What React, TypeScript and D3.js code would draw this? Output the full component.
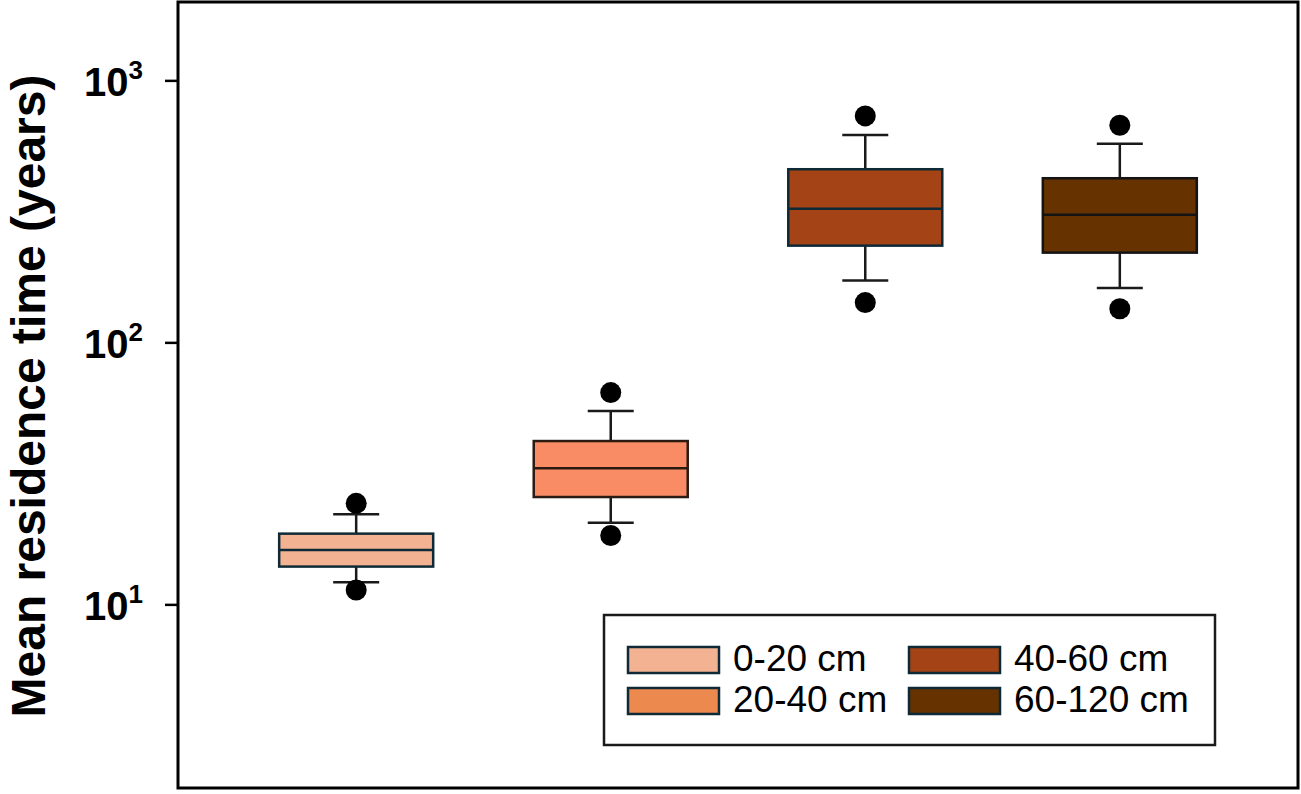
import React from "react";
import * as d3 from "d3";

const categories = ["0-20 cm", "20-40 cm", "40-60 cm", "60-120 cm"];
const lowOutlier = [11.4, 18.4, 142.5, 135];
const lowWhisker = [12.2, 20.6, 173, 162];
const q1 = [14.0, 25.8, 235, 221];
const median = [16.2, 33.2, 325, 308];
const q3 = [18.7, 42.2, 460, 425];
const highWhisker = [22.2, 55.0, 622, 575];
const highOutlier = [24.4, 64.6, 735, 677];
const boxColors = ["#F3B393", "#F98C65", "#A34316", "#653200"];
const boxStrokes = ["#0E2A36", "#2A1A12", "#0E2A36", "#141414"];
const legendColors = ["#F3B393", "#EC894F", "#A34316", "#653200"];
const yTicks = [10, 100, 1000];

const W = 1301;
const H = 794;
const left = 178;
const right = 1298;
const top = 2;
const bottom = 788;

export default function App() {
  const y = d3.scaleLog().domain([2, 2000]).range([bottom, top]);
  const x = d3.scalePoint<string>().domain(categories).range([left, right]).padding(0.7);
  const step = x.step();
  const boxW = step * 0.605;
  const capW = 46;
  const font = "Arial, 'Liberation Sans', Helvetica, sans-serif";

  const legendX = 604;
  const legendY = 615;
  const legendW = 611;
  const legendH = 130;
  const colOffsets = [24, 305];
  const rowOffsets = [32, 73];

  return (
    <svg width={W} height={H} style={{ position: "absolute", left: 0, top: 0, background: "#fff" }} fontFamily={font}>
      {/* y label */}
      <text
        transform={`translate(45, 396) rotate(-90)`}
        textAnchor="middle"
        fontSize={48}
        fontWeight="bold"
        fill="#000"
      >
        Mean residence time (years)
      </text>

      {/* ticks */}
      {yTicks.map((t) => {
        const ty = y(t);
        const exp = Math.round(Math.log10(t));
        return (
          <g key={t}>
            <line x1={165} x2={left} y1={ty} y2={ty} stroke="#000" strokeWidth={2.5} />
            <text x={143} y={ty + 15} textAnchor="end" fontSize={40} fontWeight="bold" fill="#000">
              10
              <tspan fontSize={26} dy={-17}>{exp}</tspan>
            </text>
          </g>
        );
      })}

      {/* boxes */}
      {categories.map((c, i) => {
        const cx = x(c)!;
        return (
          <g key={c}>
            <line x1={cx} x2={cx} y1={y(highWhisker[i])} y2={y(q3[i])} stroke="#1a1a1a" strokeWidth={2.5} />
            <line x1={cx} x2={cx} y1={y(q1[i])} y2={y(lowWhisker[i])} stroke="#1a1a1a" strokeWidth={2.5} />
            <line x1={cx - capW / 2} x2={cx + capW / 2} y1={y(highWhisker[i])} y2={y(highWhisker[i])} stroke="#1a1a1a" strokeWidth={2.5} />
            <line x1={cx - capW / 2} x2={cx + capW / 2} y1={y(lowWhisker[i])} y2={y(lowWhisker[i])} stroke="#1a1a1a" strokeWidth={2.5} />
            <rect
              x={cx - boxW / 2}
              y={y(q3[i])}
              width={boxW}
              height={y(q1[i]) - y(q3[i])}
              fill={boxColors[i]}
              stroke={boxStrokes[i]}
              strokeWidth={2.5}
            />
            <line x1={cx - boxW / 2} x2={cx + boxW / 2} y1={y(median[i])} y2={y(median[i])} stroke={boxStrokes[i]} strokeWidth={2.5} />
            <circle cx={cx} cy={y(highOutlier[i])} r={10.5} fill="#000" />
            <circle cx={cx} cy={y(lowOutlier[i])} r={10.5} fill="#000" />
          </g>
        );
      })}

      {/* legend */}
      <rect x={legendX} y={legendY} width={legendW} height={legendH} fill="#fff" stroke="#1a1a1a" strokeWidth={2.5} />
      {categories.map((c, i) => {
        const col = Math.floor(i / 2);
        const row = i % 2;
        const sx = legendX + colOffsets[col];
        const sy = legendY + rowOffsets[row];
        return (
          <g key={"lg" + c}>
            <rect x={sx} y={sy} width={91} height={26} fill={legendColors[i]} stroke="#0E2A36" strokeWidth={2.5} />
            <text x={sx + 105} y={sy + 24} fontSize={37} fill="#000">
              {c}
            </text>
          </g>
        );
      })}

      {/* frame */}
      <rect x={left} y={top} width={right - left} height={bottom - top} fill="none" stroke="#000" strokeWidth={3} />
    </svg>
  );
}
